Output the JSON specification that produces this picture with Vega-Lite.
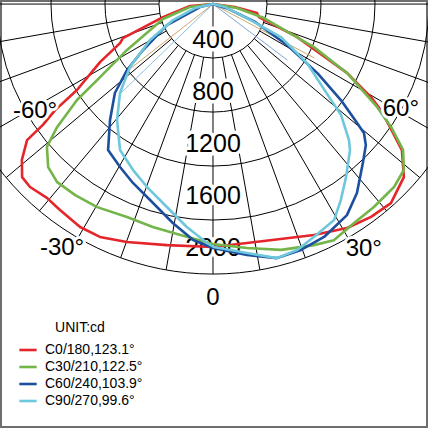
{
  "$schema": "https://vega.github.io/schema/vega-lite/v6.json",
  "width": 428,
  "height": 428,
  "padding": 0,
  "autosize": {"type": "none"},
  "background": "white",
  "config": {
    "view": {"stroke": "#6e6e6e", "strokeWidth": 4},
    "font": "Liberation Sans",
    "text": {"font": "Liberation Sans"}
  },
  "datasets": {
    "rings": [{"v": 400}, {"v": 800}, {"v": 1200}, {"v": 1600}, {"v": 2000}],
    "spokes": [
      {"a": -90, "r0": 400, "r1": 2000}, {"a": -80, "r0": 400, "r1": 2000}, {"a": -70, "r0": 400, "r1": 2000},
      {"a": -60, "r0": 400, "r1": 2000}, {"a": -50, "r0": 400, "r1": 2000}, {"a": -40, "r0": 400, "r1": 2000},
      {"a": -30, "r0": 400, "r1": 2000}, {"a": -20, "r0": 400, "r1": 2000}, {"a": -10, "r0": 400, "r1": 2000},
      {"a": 0, "r0": 0, "r1": 2000},
      {"a": 10, "r0": 400, "r1": 2000}, {"a": 20, "r0": 400, "r1": 2000}, {"a": 30, "r0": 400, "r1": 2000},
      {"a": 40, "r0": 400, "r1": 2000}, {"a": 50, "r0": 400, "r1": 2000}, {"a": 60, "r0": 400, "r1": 2000},
      {"a": 70, "r0": 400, "r1": 2000}, {"a": 80, "r0": 400, "r1": 2000}, {"a": 90, "r0": 400, "r1": 2000}
    ],
    "ringLabels": [
      {"t": "400", "v": 400}, {"t": "800", "v": 800}, {"t": "1200", "v": 1200}, {"t": "1600", "v": 1600}, {"t": "2000", "v": 2000}
    ],
    "beams": [
      {"a": -52, "r0": 0, "v": 790, "col": "#cfa76a"},
      {"a": -46, "r0": 0, "v": 950, "col": "#8cc3e2"},
      {"a": 62, "r0": 0, "v": 850, "col": "#c9ad6f"},
      {"a": 53, "r0": 0, "v": 690, "col": "#7da6dc"}
    ],
    "angleLabels": [
      {"t": "0", "a": 0, "r": 2181},
      {"t": "30°", "a": 31.6, "r": 2132},
      {"t": "-30°", "a": -31.75, "r": 2125},
      {"t": "60°", "a": 60.8, "r": 1595},
      {"t": "-60°", "a": -59, "r": 1538}
    ],
    "curves": [
      {"c": "C0/180,123.1°", "i": 0, "a": -90, "v": 0},
      {"c": "C0/180,123.1°", "i": 1, "a": -85, "v": 171},
      {"c": "C0/180,123.1°", "i": 2, "a": -75.4, "v": 383},
      {"c": "C0/180,123.1°", "i": 3, "a": -69.3, "v": 713},
      {"c": "C0/180,123.1°", "i": 4, "a": -67.2, "v": 747},
      {"c": "C0/180,123.1°", "i": 5, "a": -62.8, "v": 941},
      {"c": "C0/180,123.1°", "i": 6, "a": -57.7, "v": 1192},
      {"c": "C0/180,123.1°", "i": 7, "a": -56.1, "v": 1409},
      {"c": "C0/180,123.1°", "i": 8, "a": -54.6, "v": 1546},
      {"c": "C0/180,123.1°", "i": 9, "a": -53.8, "v": 1707},
      {"c": "C0/180,123.1°", "i": 10, "a": -50.8, "v": 1827},
      {"c": "C0/180,123.1°", "i": 11, "a": -47.8, "v": 1909},
      {"c": "C0/180,123.1°", "i": 12, "a": -45, "v": 1917},
      {"c": "C0/180,123.1°", "i": 13, "a": -40.6, "v": 1891},
      {"c": "C0/180,123.1°", "i": 14, "a": -36.6, "v": 1901},
      {"c": "C0/180,123.1°", "i": 15, "a": -30.8, "v": 1923},
      {"c": "C0/180,123.1°", "i": 16, "a": -25.9, "v": 1918},
      {"c": "C0/180,123.1°", "i": 17, "a": -19.9, "v": 1875},
      {"c": "C0/180,123.1°", "i": 18, "a": -10.8, "v": 1818},
      {"c": "C0/180,123.1°", "i": 19, "a": 0, "v": 1800},
      {"c": "C0/180,123.1°", "i": 20, "a": 12.1, "v": 1796},
      {"c": "C0/180,123.1°", "i": 21, "a": 23.6, "v": 1867},
      {"c": "C0/180,123.1°", "i": 22, "a": 30.9, "v": 1934},
      {"c": "C0/180,123.1°", "i": 23, "a": 36.6, "v": 1964},
      {"c": "C0/180,123.1°", "i": 24, "a": 41.8, "v": 1978},
      {"c": "C0/180,123.1°", "i": 25, "a": 47.8, "v": 1909},
      {"c": "C0/180,123.1°", "i": 26, "a": 52.3, "v": 1769},
      {"c": "C0/180,123.1°", "i": 27, "a": 55.2, "v": 1597},
      {"c": "C0/180,123.1°", "i": 28, "a": 57.7, "v": 1471},
      {"c": "C0/180,123.1°", "i": 29, "a": 59.5, "v": 1358},
      {"c": "C0/180,123.1°", "i": 30, "a": 62.8, "v": 1116},
      {"c": "C0/180,123.1°", "i": 31, "a": 68.6, "v": 668},
      {"c": "C0/180,123.1°", "i": 32, "a": 74.2, "v": 354},
      {"c": "C0/180,123.1°", "i": 33, "a": 78.4, "v": 333},
      {"c": "C0/180,123.1°", "i": 34, "a": 82, "v": 164},
      {"c": "C0/180,123.1°", "i": 35, "a": 90, "v": 0},

      {"c": "C30/210,122.5°", "i": 0, "a": -90, "v": 0},
      {"c": "C30/210,122.5°", "i": 1, "a": -82.6, "v": 172},
      {"c": "C30/210,122.5°", "i": 2, "a": -73.3, "v": 387},
      {"c": "C30/210,122.5°", "i": 3, "a": -61.9, "v": 722},
      {"c": "C30/210,122.5°", "i": 4, "a": -57.1, "v": 996},
      {"c": "C30/210,122.5°", "i": 5, "a": -54.8, "v": 1233},
      {"c": "C30/210,122.5°", "i": 6, "a": -51.7, "v": 1472},
      {"c": "C30/210,122.5°", "i": 7, "a": -49.3, "v": 1623},
      {"c": "C30/210,122.5°", "i": 8, "a": -45.3, "v": 1718},
      {"c": "C30/210,122.5°", "i": 9, "a": -41.2, "v": 1753},
      {"c": "C30/210,122.5°", "i": 10, "a": -35.8, "v": 1745},
      {"c": "C30/210,122.5°", "i": 11, "a": -29.7, "v": 1732},
      {"c": "C30/210,122.5°", "i": 12, "a": -22, "v": 1701},
      {"c": "C30/210,122.5°", "i": 13, "a": -15.1, "v": 1711},
      {"c": "C30/210,122.5°", "i": 14, "a": -8.9, "v": 1724},
      {"c": "C30/210,122.5°", "i": 15, "a": 0, "v": 1778},
      {"c": "C30/210,122.5°", "i": 16, "a": 7.9, "v": 1825},
      {"c": "C30/210,122.5°", "i": 17, "a": 15.5, "v": 1890},
      {"c": "C30/210,122.5°", "i": 18, "a": 22.7, "v": 1936},
      {"c": "C30/210,122.5°", "i": 19, "a": 27.1, "v": 1965},
      {"c": "C30/210,122.5°", "i": 20, "a": 32.8, "v": 1930},
      {"c": "C30/210,122.5°", "i": 21, "a": 38.4, "v": 1919},
      {"c": "C30/210,122.5°", "i": 22, "a": 44.7, "v": 1907},
      {"c": "C30/210,122.5°", "i": 23, "a": 49, "v": 1874},
      {"c": "C30/210,122.5°", "i": 24, "a": 52.5, "v": 1775},
      {"c": "C30/210,122.5°", "i": 25, "a": 55.4, "v": 1603},
      {"c": "C30/210,122.5°", "i": 26, "a": 57.9, "v": 1435},
      {"c": "C30/210,122.5°", "i": 27, "a": 62.8, "v": 1116},
      {"c": "C30/210,122.5°", "i": 28, "a": 66.9, "v": 813},
      {"c": "C30/210,122.5°", "i": 29, "a": 74.7, "v": 392},
      {"c": "C30/210,122.5°", "i": 30, "a": 80.5, "v": 180},
      {"c": "C30/210,122.5°", "i": 31, "a": 90, "v": 0},

      {"c": "C60/240,103.9°", "i": 0, "a": -90, "v": 0},
      {"c": "C60/240,103.9°", "i": 1, "a": -77, "v": 99},
      {"c": "C60/240,103.9°", "i": 2, "a": -65.5, "v": 375},
      {"c": "C60/240,103.9°", "i": 3, "a": -56.7, "v": 620},
      {"c": "C60/240,103.9°", "i": 4, "a": -52.5, "v": 803},
      {"c": "C60/240,103.9°", "i": 5, "a": -47.8, "v": 981},
      {"c": "C60/240,103.9°", "i": 6, "a": -41.6, "v": 1149},
      {"c": "C60/240,103.9°", "i": 7, "a": -35.7, "v": 1332},
      {"c": "C60/240,103.9°", "i": 8, "a": -29.7, "v": 1390},
      {"c": "C60/240,103.9°", "i": 9, "a": -24.1, "v": 1452},
      {"c": "C60/240,103.9°", "i": 10, "a": -17.8, "v": 1525},
      {"c": "C60/240,103.9°", "i": 11, "a": -10.4, "v": 1649},
      {"c": "C60/240,103.9°", "i": 12, "a": -4.8, "v": 1754},
      {"c": "C60/240,103.9°", "i": 13, "a": 0, "v": 1807},
      {"c": "C60/240,103.9°", "i": 14, "a": 7.7, "v": 1876},
      {"c": "C60/240,103.9°", "i": 15, "a": 14.1, "v": 1941},
      {"c": "C60/240,103.9°", "i": 16, "a": 19.7, "v": 1935},
      {"c": "C60/240,103.9°", "i": 17, "a": 25.5, "v": 1912},
      {"c": "C60/240,103.9°", "i": 18, "a": 32.4, "v": 1852},
      {"c": "C60/240,103.9°", "i": 19, "a": 37.3, "v": 1760},
      {"c": "C60/240,103.9°", "i": 20, "a": 43.3, "v": 1619},
      {"c": "C60/240,103.9°", "i": 21, "a": 47.3, "v": 1541},
      {"c": "C60/240,103.9°", "i": 22, "a": 49.5, "v": 1471},
      {"c": "C60/240,103.9°", "i": 23, "a": 50.8, "v": 1358},
      {"c": "C60/240,103.9°", "i": 24, "a": 53.1, "v": 1185},
      {"c": "C60/240,103.9°", "i": 25, "a": 56.5, "v": 930},
      {"c": "C60/240,103.9°", "i": 26, "a": 61, "v": 630},
      {"c": "C60/240,103.9°", "i": 27, "a": 67, "v": 340},
      {"c": "C60/240,103.9°", "i": 28, "a": 73, "v": 110},
      {"c": "C60/240,103.9°", "i": 29, "a": 90, "v": 0},

      {"c": "C90/270,99.6°", "i": 0, "a": -90, "v": 0},
      {"c": "C90/270,99.6°", "i": 1, "a": -77.5, "v": 137},
      {"c": "C90/270,99.6°", "i": 2, "a": -68.2, "v": 319},
      {"c": "C90/270,99.6°", "i": 3, "a": -60.3, "v": 537},
      {"c": "C90/270,99.6°", "i": 4, "a": -52.8, "v": 772},
      {"c": "C90/270,99.6°", "i": 5, "a": -46.3, "v": 953},
      {"c": "C90/270,99.6°", "i": 6, "a": -39.6, "v": 1115},
      {"c": "C90/270,99.6°", "i": 7, "a": -32.5, "v": 1282},
      {"c": "C90/270,99.6°", "i": 8, "a": -25.7, "v": 1365},
      {"c": "C90/270,99.6°", "i": 9, "a": -19.8, "v": 1441},
      {"c": "C90/270,99.6°", "i": 10, "a": -12.8, "v": 1542},
      {"c": "C90/270,99.6°", "i": 11, "a": -6.7, "v": 1663},
      {"c": "C90/270,99.6°", "i": 12, "a": -1.4, "v": 1771},
      {"c": "C90/270,99.6°", "i": 13, "a": 0.2, "v": 1800},
      {"c": "C90/270,99.6°", "i": 14, "a": 7.8, "v": 1861},
      {"c": "C90/270,99.6°", "i": 15, "a": 14.1, "v": 1941},
      {"c": "C90/270,99.6°", "i": 16, "a": 18.9, "v": 1926},
      {"c": "C90/270,99.6°", "i": 17, "a": 23.4, "v": 1881},
      {"c": "C90/270,99.6°", "i": 18, "a": 29.3, "v": 1834},
      {"c": "C90/270,99.6°", "i": 19, "a": 33.1, "v": 1734},
      {"c": "C90/270,99.6°", "i": 20, "a": 37.6, "v": 1616},
      {"c": "C90/270,99.6°", "i": 21, "a": 43.2, "v": 1483},
      {"c": "C90/270,99.6°", "i": 22, "a": 45, "v": 1425},
      {"c": "C90/270,99.6°", "i": 23, "a": 49.1, "v": 1255},
      {"c": "C90/270,99.6°", "i": 24, "a": 51.6, "v": 1086},
      {"c": "C90/270,99.6°", "i": 25, "a": 57.9, "v": 822},
      {"c": "C90/270,99.6°", "i": 26, "a": 64.1, "v": 560},
      {"c": "C90/270,99.6°", "i": 27, "a": 67.6, "v": 272},
      {"c": "C90/270,99.6°", "i": 28, "a": 76, "v": 92},
      {"c": "C90/270,99.6°", "i": 29, "a": 90, "v": 0}
    ]
  },
  "layer": [
    {
      "data": {"name": "rings"},
      "transform": [
        {"calculate": "0", "as": "x"},
        {"calculate": "0", "as": "y"}
      ],
      "mark": {"type": "point", "shape": "circle", "filled": false, "stroke": "black", "strokeWidth": 1, "opacity": 1},
      "encoding": {
        "x": {"field": "x", "type": "quantitative", "scale": {"domain": [-1578, 1593], "nice": false, "zero": false}, "axis": null},
        "y": {"field": "y", "type": "quantitative", "scale": {"domain": [-3141, 30], "nice": false, "zero": false}, "axis": null},
        "size": {"field": "v", "type": "quantitative", "scale": {"type": "pow", "exponent": 2, "domain": [0, 2000], "range": [0, 291600]}, "legend": null}
      }
    },
    {
      "data": {"name": "spokes"},
      "transform": [
        {"calculate": "datum.r0*sin(datum.a*PI/180)", "as": "x"},
        {"calculate": "-datum.r0*cos(datum.a*PI/180)", "as": "y"},
        {"calculate": "datum.r1*sin(datum.a*PI/180)", "as": "x2"},
        {"calculate": "-datum.r1*cos(datum.a*PI/180)", "as": "y2"}
      ],
      "mark": {"type": "rule", "color": "black", "strokeWidth": 1},
      "encoding": {
        "x": {"field": "x", "type": "quantitative"},
        "y": {"field": "y", "type": "quantitative"},
        "x2": {"field": "x2"},
        "y2": {"field": "y2"}
      }
    },
    {
      "data": {"name": "ringLabels"},
      "transform": [
        {"calculate": "0", "as": "x"},
        {"calculate": "-(datum.v*0.965-120)", "as": "y"}
      ],
      "mark": {"type": "text", "fontSize": 25, "align": "center", "baseline": "middle", "fill": "white", "stroke": "white", "strokeWidth": 7},
      "encoding": {
        "x": {"field": "x", "type": "quantitative"},
        "y": {"field": "y", "type": "quantitative"},
        "text": {"field": "t"}
      }
    },
    {
      "data": {"name": "ringLabels"},
      "transform": [
        {"calculate": "0", "as": "x"},
        {"calculate": "-(datum.v*0.965-120)", "as": "y"}
      ],
      "mark": {"type": "text", "fontSize": 25, "align": "center", "baseline": "middle", "color": "black"},
      "encoding": {
        "x": {"field": "x", "type": "quantitative"},
        "y": {"field": "y", "type": "quantitative"},
        "text": {"field": "t"}
      }
    },
    {
      "data": {"name": "beams"},
      "transform": [
        {"calculate": "datum.r0*sin(datum.a*PI/180)", "as": "x"},
        {"calculate": "-datum.r0*cos(datum.a*PI/180)", "as": "y"},
        {"calculate": "datum.v*sin(datum.a*PI/180)", "as": "x2"},
        {"calculate": "-datum.v*cos(datum.a*PI/180)", "as": "y2"}
      ],
      "mark": {"type": "rule", "strokeWidth": 1},
      "encoding": {
        "x": {"field": "x", "type": "quantitative"},
        "y": {"field": "y", "type": "quantitative"},
        "x2": {"field": "x2"},
        "y2": {"field": "y2"},
        "color": {"field": "col", "type": "nominal", "scale": null}
      }
    },
    {
      "data": {"name": "curves"},
      "transform": [
        {"calculate": "datum.v*sin(datum.a*PI/180)", "as": "x"},
        {"calculate": "-datum.v*cos(datum.a*PI/180)", "as": "y"}
      ],
      "mark": {"type": "line", "strokeWidth": 2.6, "strokeJoin": "round", "strokeCap": "round"},
      "encoding": {
        "x": {"field": "x", "type": "quantitative"},
        "y": {"field": "y", "type": "quantitative"},
        "order": {"field": "i", "type": "quantitative"},
        "color": {
          "field": "c",
          "type": "nominal",
          "sort": ["C0/180,123.1°", "C30/210,122.5°", "C60/240,103.9°", "C90/270,99.6°"],
          "scale": {
            "domain": ["C0/180,123.1°", "C30/210,122.5°", "C60/240,103.9°", "C90/270,99.6°"],
            "range": ["#e4262b", "#74b54a", "#1d4f9f", "#6fc7db"]
          },
          "legend": {
            "orient": "none",
            "legendX": 18,
            "legendY": 321,
            "title": "UNIT:cd",
            "titleAnchor": "middle",
            "titleFont": "Liberation Sans",
            "titleFontSize": 14,
            "titleFontWeight": "normal",
            "titleColor": "black",
            "titlePadding": 5,
            "labelFont": "Liberation Sans",
            "labelFontSize": 14,
            "labelColor": "black",
            "labelOffset": 7,
            "symbolType": "stroke",
            "symbolStrokeWidth": 2.6,
            "symbolSize": 300,
            "rowPadding": 0,
            "padding": 0
          }
        }
      }
    },
    {
      "data": {"name": "angleLabels"},
      "transform": [
        {"calculate": "datum.r*sin(datum.a*PI/180)", "as": "x"},
        {"calculate": "-datum.r*cos(datum.a*PI/180)", "as": "y"}
      ],
      "mark": {"type": "text", "fontSize": 24, "align": "center", "baseline": "middle", "fill": "white", "stroke": "white", "strokeWidth": 6},
      "encoding": {
        "x": {"field": "x", "type": "quantitative"},
        "y": {"field": "y", "type": "quantitative"},
        "text": {"field": "t"}
      }
    },
    {
      "data": {"name": "angleLabels"},
      "transform": [
        {"calculate": "datum.r*sin(datum.a*PI/180)", "as": "x"},
        {"calculate": "-datum.r*cos(datum.a*PI/180)", "as": "y"}
      ],
      "mark": {"type": "text", "fontSize": 24, "align": "center", "baseline": "middle", "color": "black"},
      "encoding": {
        "x": {"field": "x", "type": "quantitative"},
        "y": {"field": "y", "type": "quantitative"},
        "text": {"field": "t"}
      }
    }
  ]
}
